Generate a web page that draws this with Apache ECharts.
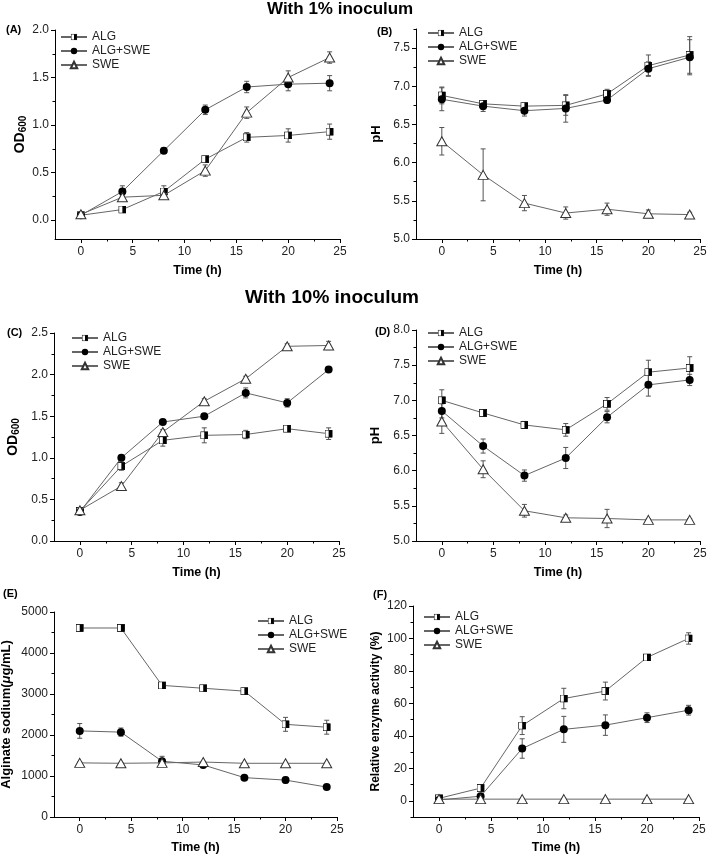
<!DOCTYPE html>
<html>
<head>
<meta charset="utf-8">
<script src="https://cdn.jsdelivr.net/npm/echarts@6/dist/echarts.min.js"></script>
<style>
  html, body { margin: 0; padding: 0; background: #fff; }
  #chart { width: 709px; height: 854px; }
</style>
</head>
<body>
<div id="chart"></div>
<script>
// sampling times (h)
var time = [0, 4, 8, 12, 16, 20, 24];
var xLabels = [0, 5, 10, 15, 20, 25];
var xMinor = [2.5, 7.5, 12.5, 17.5, 22.5];
var seriesNames = ["ALG", "ALG+SWE", "SWE"];

// (A) OD600, 1% inoculum
var odAlg1 = [0.05, 0.11, 0.30, 0.64, 0.87, 0.89, 0.93];
var odAlg1Err = [0.01, 0.02, 0.06, 0.03, 0.05, 0.07, 0.08];
var odAlgSwe1 = [0.05, 0.30, 0.73, 1.16, 1.40, 1.43, 1.44];
var odAlgSwe1Err = [0.01, 0.06, 0.03, 0.05, 0.06, 0.07, 0.08];
var odSwe1 = [0.06, 0.24, 0.26, 0.52, 1.13, 1.50, 1.71];
var odSwe1Err = [0.01, 0.02, 0.03, 0.06, 0.06, 0.07, 0.06];

// (B) pH, 1% inoculum
var phAlg1 = [6.88, 6.77, 6.74, 6.75, 6.90, 7.27, 7.41];
var phAlg1Err = [0.11, 0.04, 0.04, 0.13, 0.06, 0.14, 0.24];
var phAlgSwe1 = [6.83, 6.74, 6.68, 6.71, 6.82, 7.23, 7.38];
var phAlgSwe1Err = [0.15, 0.07, 0.07, 0.18, 0.04, 0.09, 0.23];
var phSwe1 = [6.28, 5.84, 5.47, 5.34, 5.39, 5.33, 5.32];
var phSwe1Err = [0.18, 0.34, 0.10, 0.08, 0.08, 0.05, 0.03];

// (C) OD600, 10% inoculum
var odAlg10 = [0.36, 0.90, 1.21, 1.27, 1.28, 1.35, 1.29];
var odAlg10Err = [0.02, 0.05, 0.07, 0.09, 0.05, 0.03, 0.07];
var odAlgSwe10 = [0.35, 1.00, 1.43, 1.50, 1.78, 1.66, 2.06];
var odAlgSwe10Err = [0.02, 0.02, 0.02, 0.03, 0.06, 0.05, 0.03];
var odSwe10 = [0.37, 0.66, 1.31, 1.68, 1.95, 2.34, 2.35];
var odSwe10Err = [0.02, 0.04, 0.03, 0.03, 0.03, 0.03, 0.05];

// (D) pH, 10% inoculum
var phAlg10 = [7.00, 6.82, 6.65, 6.58, 6.95, 7.40, 7.46];
var phAlg10Err = [0.15, 0.03, 0.05, 0.09, 0.09, 0.17, 0.16];
var phAlgSwe10 = [6.85, 6.35, 5.93, 6.18, 6.76, 7.22, 7.29];
var phAlgSwe10Err = [0.10, 0.10, 0.08, 0.15, 0.08, 0.16, 0.08];
var phSwe10 = [6.70, 6.02, 5.43, 5.33, 5.32, 5.30, 5.30];
var phSwe10Err = [0.17, 0.12, 0.09, 0.04, 0.13, 0.02, 0.02];

// (E) alginate sodium (ug/mL)
var algAlg = [4610, 4610, 3210, 3140, 3070, 2260, 2190];
var algAlgErr = [30, 30, 60, 60, 70, 170, 170];
var algAlgSwe = [2100, 2070, 1360, 1270, 960, 900, 730];
var algAlgSweErr = [180, 100, 120, 40, 40, 70, 60];
var algSwe = [1320, 1310, 1320, 1340, 1310, 1310, 1310];
var algSweErr = [20, 20, 20, 20, 20, 20, 20];

// (F) relative enzyme activity (%)
var actAlg = [1.5, 7.8, 46.3, 63.0, 67.6, 88.3, 100.0];
var actAlgErr = [1.0, 1.0, 5.5, 6.3, 5.5, 1.5, 3.5];
var actAlgSwe = [0.5, 2.8, 32.2, 44.0, 46.6, 51.2, 55.8];
var actAlgSweErr = [0.5, 1.0, 6.0, 8.0, 6.3, 3.0, 3.0];
var actSwe = [1, 1, 1, 1, 1, 1, 1];
var actSweErr = [0.5, 0.5, 0.5, 0.5, 0.5, 0.5, 0.5];

var FONT = "Liberation Sans";
var lineGray = "#666";

// half filled square (left white, right black)
var sqSvg = "<svg xmlns='http://www.w3.org/2000/svg' width='20' height='20'>" +
  "<rect x='1' y='1' width='18' height='18' fill='white' stroke='black' stroke-width='2'/>" +
  "<rect x='10' y='1' width='9' height='18' fill='black'/></svg>";
var algSymbol = "image://data:image/svg+xml;utf8," + encodeURIComponent(sqSvg);

var panels = [
  { label: "(A)", lx: 6, ly: 24, grid: [55, 30, 285, 209], yMin: -0.2, yMax: 2.0,
    yLabels: [0, 0.5, 1, 1.5, 2], yMinor: [0.25, 0.75, 1.25, 1.75], dec: 1,
    yName: "OD{s|600}", yGap: 22, yNameSize: 14, xGap: 25, legend: [60, 30],
    data: [[odAlg1, odAlg1Err], [odAlgSwe1, odAlgSwe1Err], [odSwe1, odSwe1Err]] },
  { label: "(B)", lx: 377, ly: 26, grid: [416, 29, 284, 210], yMin: 5, yMax: 7.75,
    yLabels: [5, 5.5, 6, 6.5, 7, 7.5], yMinor: [5.25, 5.75, 6.25, 6.75, 7.25, 7.75], dec: 1,
    yName: "pH", yGap: 33, yNameSize: 13, xGap: 25, legend: [427, 26],
    data: [[phAlg1, phAlg1Err], [phAlgSwe1, phAlgSwe1Err], [phSwe1, phSwe1Err]] },
  { label: "(C)", lx: 7, ly: 327, grid: [54, 333, 285, 208], yMin: 0, yMax: 2.5,
    yLabels: [0, 0.5, 1, 1.5, 2, 2.5], yMinor: [0.25, 0.75, 1.25, 1.75, 2.25], dec: 1,
    yName: "OD{s|600}", yGap: 33, yNameSize: 14, xGap: 25, legend: [71, 331],
    data: [[odAlg10, odAlg10Err], [odAlgSwe10, odAlgSwe10Err], [odSwe10, odSwe10Err]] },
  { label: "(D)", lx: 375, ly: 326, grid: [416, 330, 284, 211], yMin: 5, yMax: 8,
    yLabels: [5, 5.5, 6, 6.5, 7, 7.5, 8], yMinor: [5.25, 5.75, 6.25, 6.75, 7.25, 7.75], dec: 1,
    yName: "pH", yGap: 34, yNameSize: 13, xGap: 25, legend: [427, 326],
    data: [[phAlg10, phAlg10Err], [phAlgSwe10, phAlgSwe10Err], [phSwe10, phSwe10Err]] },
  { label: "(E)", lx: 3, ly: 588, grid: [54, 612, 283, 205], yMin: 0, yMax: 5000,
    yLabels: [0, 1000, 2000, 3000, 4000, 5000], yMinor: [500, 1500, 2500, 3500, 4500], dec: 0,
    yName: "Alginate sodium({i|μ}g/mL)", yGap: 41, yNameSize: 13, xGap: 24, legend: [257, 614],
    data: [[algAlg, algAlgErr], [algAlgSwe, algAlgSweErr], [algSwe, algSweErr]] },
  { label: "(F)", lx: 373, ly: 589, grid: [413, 606, 286, 211], yMin: -10, yMax: 120,
    yLabels: [0, 20, 40, 60, 80, 100, 120], yMinor: [-10, 10, 30, 50, 70, 90, 110], dec: 0,
    yName: "Relative enzyme activity (%)", yGap: 31, yNameSize: 12, xGap: 24, legend: [423, 610],
    data: [[actAlg, actAlgErr], [actAlgSwe, actAlgSweErr], [actSwe, actSweErr]] }
];

var styles = [
  { symbol: algSymbol, symbolSize: 8, itemStyle: { color: "#000" } },
  { symbol: "circle", symbolSize: 8, itemStyle: { color: "#000" } },
  { symbol: "triangle", symbolSize: [10, 9], itemStyle: { color: "#fff", borderColor: "#333", borderWidth: 1 } }
];

function renderErr(params, api) {
  var x = api.value(0), y = api.value(1), e = api.value(2);
  var top = api.coord([x, y + e]);
  var bot = api.coord([x, y - e]);
  var w = 2.5;
  var st = { stroke: "#555", lineWidth: 1 };
  return {
    type: "group",
    children: [
      { type: "line", shape: { x1: top[0], y1: top[1], x2: bot[0], y2: bot[1] }, style: st },
      { type: "line", shape: { x1: top[0] - w, y1: top[1], x2: top[0] + w, y2: top[1] }, style: st },
      { type: "line", shape: { x1: bot[0] - w, y1: bot[1], x2: bot[0] + w, y2: bot[1] }, style: st }
    ]
  };
}

var grids = [], xAxes = [], yAxes = [], series = [], legends = [], graphics = [];
var axisLineStyle = { color: "#000", width: 1 };

panels.forEach(function (p, i) {
  grids.push({ left: p.grid[0], top: p.grid[1], width: p.grid[2], height: p.grid[3], outerBoundsMode: "none" });

  // main x axis
  xAxes.push({
    gridIndex: i, type: "value", min: -2.5, max: 25,
    axisLine: { show: true, onZero: false, lineStyle: axisLineStyle },
    axisTick: { show: true, customValues: xLabels, length: 4, lineStyle: axisLineStyle },
    axisLabel: { customValues: xLabels, color: "#222", fontSize: 12, fontFamily: FONT, margin: 7 },
    splitLine: { show: false },
    name: "Time (h)", nameLocation: "middle", nameGap: p.xGap,
    nameTextStyle: { fontWeight: "bold", fontSize: 12.5, fontFamily: FONT, color: "#000" }
  });
  // minor x ticks
  xAxes.push({
    gridIndex: i, type: "value", min: -2.5, max: 25, position: "bottom",
    axisLine: { show: false, onZero: false },
    axisTick: { show: true, customValues: xMinor, length: 2.5, lineStyle: axisLineStyle },
    axisLabel: { show: false }, splitLine: { show: false }
  });

  yAxes.push({
    gridIndex: i, type: "value", min: p.yMin, max: p.yMax,
    axisLine: { show: true, onZero: false, lineStyle: axisLineStyle },
    axisTick: { show: true, customValues: p.yLabels, length: 4, lineStyle: axisLineStyle },
    axisLabel: {
      customValues: p.yLabels, color: "#222", fontSize: 12, fontFamily: FONT, margin: 6,
      formatter: function (v) { return Number(v).toFixed(p.dec); }
    },
    splitLine: { show: false },
    name: p.yName, nameLocation: "middle", nameGap: p.yGap, nameRotate: 90,
    nameTextStyle: {
      fontWeight: "bold", fontSize: p.yNameSize, fontFamily: FONT, color: "#000",
      rich: {
        s: { fontWeight: "bold", fontSize: 10, fontFamily: FONT, color: "#000", verticalAlign: "bottom", padding: [6, 0, 0, 0] },
        i: { fontWeight: "bold", fontStyle: "italic", fontSize: p.yNameSize, fontFamily: FONT, color: "#000" }
      }
    }
  });
  yAxes.push({
    gridIndex: i, type: "value", min: p.yMin, max: p.yMax, position: "left",
    axisLine: { show: false, onZero: false },
    axisTick: { show: true, customValues: p.yMinor, length: 2.5, lineStyle: axisLineStyle },
    axisLabel: { show: false }, splitLine: { show: false }
  });

  p.data.forEach(function (d, k) {
    var vals = d[0], errs = d[1];
    series.push({
      type: "custom", name: "err" + i + "_" + k,
      xAxisIndex: 2 * i, yAxisIndex: 2 * i,
      renderItem: renderErr,
      encode: { x: 0, y: 1 },
      data: time.map(function (t, j) { return [t, vals[j], errs[j]]; }),
      z: 2, silent: true
    });
    series.push({
      type: "line", name: seriesNames[k],
      xAxisIndex: 2 * i, yAxisIndex: 2 * i,
      data: time.map(function (t, j) { return [t, vals[j]]; }),
      symbol: styles[k].symbol, symbolSize: styles[k].symbolSize,
      showAllSymbol: true,
      itemStyle: styles[k].itemStyle,
      lineStyle: { color: lineGray, width: 1 },
      z: 3 + k
    });
  });

  legends.push({
    left: p.legend[0], top: p.legend[1], orient: "vertical",
    data: seriesNames, itemWidth: 26, itemHeight: 8, itemGap: 0, padding: 0,
    textStyle: { fontSize: 12, fontFamily: FONT, color: "#222", lineHeight: 14 },
    selectedMode: false
  });

  graphics.push({
    type: "text", left: p.lx, top: p.ly,
    style: { text: p.label, font: "bold 11px " + FONT, fill: "#000" }
  });
});

var myChart = echarts.init(document.getElementById("chart"));
var option = {
  backgroundColor: "#fff",
  animation: false,
  title: [
    { text: "With 1% inoculum", left: 267, top: 1, padding: 0,
      textStyle: { fontSize: 17, fontWeight: "bold", fontFamily: FONT, color: "#000" } },
    { text: "With 10% inoculum", left: 245, top: 288, padding: 0,
      textStyle: { fontSize: 19, fontWeight: "bold", fontFamily: FONT, color: "#000" } }
  ],
  grid: grids,
  xAxis: xAxes,
  yAxis: yAxes,
  legend: legends,
  graphic: graphics,
  series: series
};
myChart.setOption(option);
</script>
</body>
</html>
